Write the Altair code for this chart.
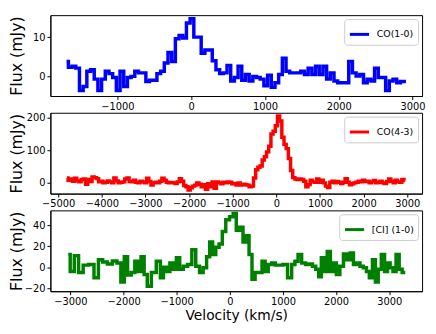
import altair as alt
import pandas as pd

# ---------------- data ----------------
# CO(1-0): uniform 50 km/s channels starting at -1690 km/s
co10_start, co10_step = -1690, 50
co10_flux = [3.8, 2.3, 2.6, 2.1, -3.6, -2.6, 1.3, 1.7, -0.7, -3.6,
             -0.7, 1.3, 0.7, -0.3, -3.6, 1.3, -2.6, -0.3, 0.0, 1.3,
             0.9, 0.9, -1.3, -1.0, -1.0, 0.7, 1.3, 3.4, 6.1, 3.8,
             9.6, 10.4, 9.8, 13.6, 14.7, 10.0, 10.0, 5.9, 6.7, 6.7,
             4.0, 1.7, 0.7, 0.9, 2.8, -1.2, -0.3, 2.6, -1.0, 0.5,
             -1.2, 0.0, -0.3, -0.7, -2.4, 0.3, -2.8, -1.6, 0.5, 4.6,
             1.3, 0.9, 0.9, 0.9, 1.3, 0.5, 2.1, 0.5, 2.6, 0.5,
             2.6, -0.7, 0.9, -1.2, -1.6, -1.6, -1.6, 3.8, 0.9, 0.1,
             0.5, -1.6, -0.7, -1.2, 2.1, -0.3, -0.3, -3.6, -1.2, -0.7,
             -1.6, -1.3, -1.3]

# CO(4-3): uniform 50 km/s channels starting at -4800 km/s
co43_start, co43_step = -4800, 50
co43_flux = [15, 8, 12, 5, 14, 6, 3, 10, 12, -4,
             10, 4, 18, 16, 13, 3, 5, 0, 2, 6,
             3, 0, 15, 6, 0, 2, 3, 12, 15, 4,
             3, 8, 2, 0, 5, 3, 0, 14, 4, -7,
             0, 2, 0, 5, 14, 8, 2, 0, 1, 0,
             -2, 3, 13, 5, -8, -12, -22, -15, -10, -7,
             0, -4, -12, -6, -20, -3, -12, 3, -17, 3,
             0, -3, 2, 0, 3, 2, -3, -2, -7, 0,
             -7, -4, -6, -7, -12, -10, 15, 40, 48, 52,
             70, 80, 95, 112, 150, 158, 175, 205, 190, 140,
             118, 105, 75, 38, 16, 12, 10, 12, 10, 5,
             -12, -5, 8, 3, 2, 12, 2, 8, 0, -10,
             -14, 2, 5, 0, 4, 2, -2, 2, 13, 2,
             -6, -3, 0, 2, 5, 3, 8, 4, 5, 0,
             3, 7, 0, 2, 5, 0, -2, 4, 12, 5,
             0, 8, 3, 2, 10, 7]

# [CI](1-0): channel velocities and fluxes
ci_vel = [-3042, -2968, -2888, -2807, -2715, -2604, -2511, -2437, -2351, -2258,
          -2166, -2085, -2018, -1956, -1894, -1820, -1758, -1703, -1641, -1586,
          -1524, -1431, -1339, -1277, -1222, -1160, -1098, -1037, -975, -913,
          -839, -753, -679, -605, -537, -469, -407, -352, -296, -234,
          -173, -111, -43, 31, 93, 148, 216, 278, 333, 389,
          444, 506, 574, 636, 691, 753, 821, 888, 956, 1043,
          1129, 1197, 1253, 1314, 1388, 1462, 1524, 1586, 1647, 1697,
          1746, 1802, 1863, 1919, 1974, 2036, 2104, 2172, 2234, 2295,
          2357, 2419, 2480, 2542, 2598, 2653, 2715, 2764, 2820, 2881,
          2943, 2992, 3042, 3097, 3159, 3215, 3270, 3301]
ci_flux = [12, -4, 11, -5, 2, 2.5, -10, 7, 5, 3,
           6, 4, -14, 10, -7.5, -5, 5.6, -4, 10, -7,
           -18, -5, 5.6, -10, 0, -4, 4, -2, 9, -2,
           1, 2.5, 16.5, 1, -5, -0.6, 10, 24, 12, 19,
           22, 34, 45, 48, 51, 35, 38, 24, 30, 12,
           -11.5, -5, -5, 5.6, -4, 2.5, 4, 2, 2, 2.5,
           -10, 2.5, 5.6, 12, 4, 2.5, 3, 1, -2, -9,
           9, -4, 15, -4, 4, -7, 1, 12.5, 7, 13.5,
           2.5, 4, 1, -0.6, -4, -10, 7, -14, -2, 12,
           -4, 4, -0.6, -4, 12, -2, -5, -5]

co10_vel = [co10_start + co10_step * i for i in range(len(co10_flux))]
co43_vel = [co43_start + co43_step * i for i in range(len(co43_flux))]

FONT = "DejaVu Sans"
W, H = 377, 82


def panel(vel, flux, name, color, xdom, xticks, ydom, yticks, xtitle):
    df = pd.DataFrame({"v": vel, "f": flux, "line": [name] * len(vel)})
    return (
        alt.Chart(df)
        .mark_line(interpolate="step", strokeWidth=3.5)
        .encode(
            x=alt.X("v:Q",
                    scale=alt.Scale(domain=xdom, nice=False, zero=False),
                    axis=alt.Axis(values=xticks, format="d"),
                    title=xtitle),
            y=alt.Y("f:Q",
                    scale=alt.Scale(domain=ydom, nice=False, zero=False),
                    axis=alt.Axis(values=yticks, format="d", titleX=-26,
                                  titleFontSize=16),
                    title="Flux (mJy)"),
            color=alt.Color("line:N",
                            scale=alt.Scale(domain=[name], range=[color]),
                            legend=alt.Legend(title=None, orient="top-right")),
        )
        .properties(width=W, height=H)
    )


p1 = panel(co10_vel, co10_flux, "CO(1-0)", "#0000ff",
           [-1909, 3129], [-1000, 0, 1000, 2000, 3000],
           [-5.0, 15.6], [0, 10], None)
p2 = panel(co43_vel, co43_flux, "CO(4-3)", "#ff0000",
           [-5180, 3340], [-5000, -4000, -3000, -2000, -1000, 0, 1000, 2000, 3000],
           [-33, 215], [0, 100, 200], None)
p3 = panel(ci_vel, ci_flux, "[CI] (1-0)", "#008000",
           [-3378, 3618], [-3000, -2000, -1000, 0, 1000, 2000, 3000],
           [-22.8, 54], [-20, 0, 20, 40], "Velocity (km/s)")

chart = (
    alt.vconcat(p1, p2, p3, spacing=17, bounds="flush")
    .resolve_scale(color="independent")
    .properties(padding={"left": 0, "top": 1, "right": 2, "bottom": 0})
    .configure_view(stroke="black", strokeWidth=1)
    .configure_axis(
        labelFont=FONT, labelFontSize=10, labelColor="black",
        tickColor="black", tickSize=3.5, tickWidth=1, labelPadding=2,
        domainColor="black", domainWidth=1, grid=False,
        titleFont=FONT, titleFontWeight="normal", titleColor="black",
        titleFontSize=14, titlePadding=2,
    )
    .configure_legend(
        labelFont=FONT, labelFontSize=9.5, labelColor="black",
        symbolType="stroke", symbolStrokeWidth=3, symbolSize=380,
        strokeColor="#cccccc", fillColor="white", padding=4,
        cornerRadius=3, offset=4, labelOffset=6,
    )
)

chart.save("out.html", embed_options={"renderer": "svg", "actions": False})
